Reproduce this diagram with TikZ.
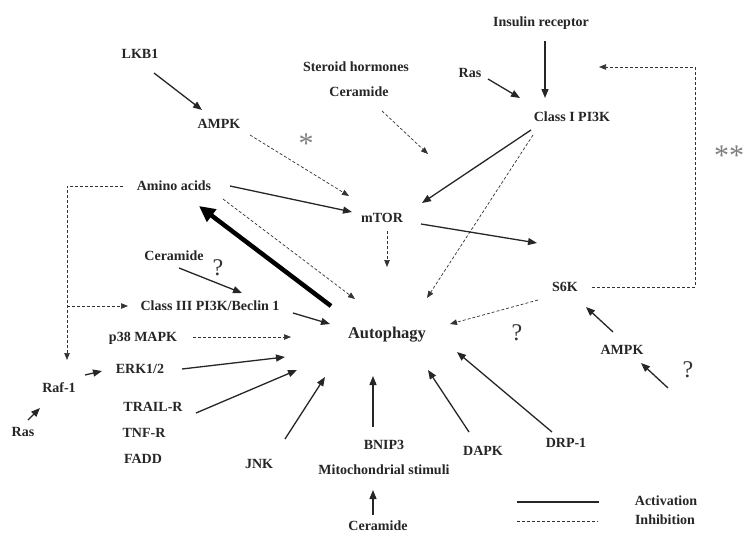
\documentclass[tikz,border=0pt]{standalone}
\usepackage{fontspec}
\setmainfont{Liberation Serif}
\usetikzlibrary{arrows.meta,calc}
\begin{document}
\begin{tikzpicture}[x=1pt,y=-1pt,
  lab/.style={font=\bfseries\fontsize{14}{16}\selectfont, inner sep=0pt, text height=9.5pt, text depth=0pt, text=black!85},
  big/.style={font=\bfseries\fontsize{16.5}{18}\selectfont, inner sep=0pt, text height=11pt, text depth=0pt, text=black!85},
  qm/.style={font=\fontsize{24}{26}\selectfont, inner sep=0pt, text=black!80},
  ast/.style={font=\fontsize{30}{32}\selectfont, inner sep=0pt, text=black!50, anchor=base},
  act/.style={draw=black!85, line width=1.3pt, -{Triangle[length=9pt,width=7pt]}},
  inh/.style={draw=black!80, line width=0.7pt, dash pattern=on 3pt off 2pt, -{Triangle[length=7pt,width=5.5pt]}},
  inhline/.style={draw=black!80, line width=0.7pt, dash pattern=on 3pt off 2pt},
  thickarr/.style={draw=black, line width=4.5pt, -{Triangle[length=16pt,width=15pt]}}
]
\useasboundingbox[fill=white] (0,0) rectangle (750,549);

% nodes
\node[lab] (ins) at (541,22) {Insulin receptor};
\node[lab] (ras1) at (470,73) {Ras};
\node[lab] (pi3k1) at (572,117) {Class I PI3K};
\node[lab] (steroid) at (356,67) {Steroid hormones};
\node[lab] (cer1) at (359,92) {Ceramide};
\node[lab] (lkb1) at (140,54) {LKB1};
\node[lab] (ampk1) at (219,124) {AMPK};
\node[ast] (star1) at (306,153) {*};
\node[ast] (star2) at (729,165) {**};
\node[lab] (amino) at (174,186) {Amino acids};
\node[lab] (mtor) at (382,218) {mTOR};
\node[lab] (cer2) at (174,256) {Ceramide};
\node[qm] (q1) at (218,268) {?};
\node[lab] (pi3k3) at (210,306) {Class III PI3K/Beclin 1};
\node[lab] (p38) at (143,337) {p38 MAPK};
\node[big] (auto) at (387,333) {Autophagy};
\node[lab] (s6k) at (565,287) {S6K};
\node[qm] (q2) at (517,333) {?};
\node[lab] (ampk2) at (622,350) {AMPK};
\node[qm] (q3) at (688,370) {?};
\node[lab] (erk) at (140,369) {ERK1/2};
\node[lab] (raf) at (59,388) {Raf-1};
\node[lab] (ras2) at (23,432) {Ras};
\node[lab] (trail) at (153,407) {TRAIL-R};
\node[lab] (tnf) at (144,433) {TNF-R};
\node[lab] (fadd) at (143,459) {FADD};
\node[lab] (jnk) at (259,464) {JNK};
\node[lab] (bnip3) at (384,445) {BNIP3};
\node[lab] (mito) at (384,470) {Mitochondrial stimuli};
\node[lab] (cer3) at (378,526) {Ceramide};
\node[lab] (dapk) at (483,451) {DAPK};
\node[lab] (drp1) at (566,443) {DRP-1};
\node[lab] (actlab) at (666,501) {Activation};
\node[lab] (inhlab) at (665,520) {Inhibition};

\coordinate (qsrc) at (668,388);
\coordinate (br) at (67,306);
\coordinate (loopA) at (67,186);
\coordinate (fbA) at (695,287);
\coordinate (fbB) at (695,67);
\coordinate (legA1) at (517,502);
\coordinate (legA2) at (599,502);
\coordinate (legI1) at (517,521);
\coordinate (legI2) at (598,521);

% connectors
\draw[act] ($(ins)+(4,19)$) -- ($(pi3k1)+(-27,-19)$);
\draw[act] ($(ras1)+(18,6)$) -- ($(pi3k1)+(-52,-19)$);
\draw[act] ($(lkb1)+(14,19)$) -- ($(ampk1)+(-17,-14)$);
\draw[inh] ($(ampk1)+(31,11)$) -- ($(mtor)+(-33,-22)$);
\draw[inh] ($(cer1)+(23,19)$) -- ($(mtor)+(46,-64)$);
\draw[act] ($(pi3k1)+(-41,13)$) -- ($(mtor)+(40,-15)$);
\draw[inh] ($(pi3k1)+(-39,18)$) -- ($(auto)+(40,-35)$);
\draw[act] ($(amino)+(56,0)$) -- ($(mtor)+(-30,-6)$);
\draw[inh] ($(amino)+(49,13)$) -- ($(auto)+(-32,-34)$);
\draw[thickarr] ($(auto)+(-56,-27)$) -- ($(amino)+(25,20)$);
\draw[inh] ($(amino)+(-51,0)$) -- (loopA) -- ($(raf)+(8,-28)$);
\draw[inh] (br) -- ($(pi3k3)+(-82,0)$);
\draw[act] ($(cer2)+(5,12)$) -- ($(pi3k3)+(32,-13)$);
\draw[act] ($(pi3k3)+(83,7)$) -- ($(auto)+(-57,-9)$);
\draw[inh] ($(p38)+(50,0)$) -- ($(auto)+(-96,4)$);
\draw[act] ($(erk)+(42,0)$) -- ($(auto)+(-102,24)$);
\draw[act] ($(raf)+(26,-13)$) -- ($(erk)+(-38,2)$);
\draw[act] ($(ras2)+(5,-12)$) -- ($(raf)+(-19,20)$);
\draw[act] ($(trail)+(43,6)$) -- ($(auto)+(-90,37)$);
\draw[act] ($(jnk)+(26,-25)$) -- ($(auto)+(-62,44)$);
\draw[act] ($(bnip3)+(-11,-18)$) -- ($(auto)+(-14,43)$);
\draw[act] ($(cer3)+(-5,-11)$) -- ($(mito)+(-11,20)$);
\draw[act] ($(dapk)+(-14,-19)$) -- ($(auto)+(41,37)$);
\draw[act] ($(drp1)+(-14,-11)$) -- ($(auto)+(70,19)$);
\draw[act] ($(mtor)+(39,6)$) -- ($(s6k)+(-28,-44)$);
\draw[inh] ($(mtor)+(5,13)$) -- ($(auto)+(0,-66)$);
\draw[inh] ($(s6k)+(-27,13)$) -- ($(auto)+(63,-9)$);
\draw[act] ($(ampk2)+(-9,-18)$) -- ($(s6k)+(21,20)$);
\draw[act] (qsrc) -- ($(ampk2)+(19,13)$);
\draw[inh] ($(s6k)+(27,0)$) -- (fbA) -- (fbB) -- ($(pi3k1)+(27,-50)$);

% legend
\draw[draw=black!85, line width=1.6pt] (legA1) -- (legA2);
\draw[inhline] (legI1) -- (legI2);
\end{tikzpicture}
\end{document}
